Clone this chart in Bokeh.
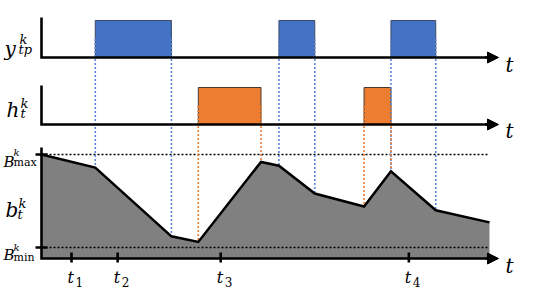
from bokeh.plotting import figure
from bokeh.models import Range1d, Arrow, NormalHead
from bokeh.embed import file_html
from bokeh.resources import INLINE
from bokeh.core.properties import value

# ---------------- data ----------------
# time axis in arbitrary units (0 .. 100), battery level normalised so that B_min = 0, B_max = 1
times = [0, 12, 29, 35, 49, 53, 61, 72, 78, 88, 100]
battery = [1.00, 0.86, 0.12, 0.06, 0.92, 0.88, 0.58, 0.44, 0.82, 0.40, 0.27]
tp_start = [12, 53, 78]          # y_tp^k = 1 intervals
tp_end = [29, 61, 88]
h_start = [35, 72]               # h_t^k = 1 intervals
h_end = [49, 78]
tick_times = [6.7, 17, 40, 82]
tick_subs = ["1", "2", "3", "4"]
b_min, b_max = 0.0, 1.0

# ---------------- layout ----------------
W, H, OFF_X, OFF_Y = 524, 288, 0, 3
X0, X_PER_T = 41.0, 4.48
T_TIP = (498 - X0) / X_PER_T
TOP_BASE, MID_BASE, UNIT = 60.0, 127.0, 37.0
BMIN_Y, BMAX_Y = 250.0, 157.0
B_UNIT = BMIN_Y - BMAX_Y
BLUE, ORANGE, GRAY = "#4472C4", "#ED7D31", "#808080"
FONT = "DejaVu Serif"


def panel_range(base, unit):
    return Range1d((base - (OFF_Y + H)) / unit, (base - OFF_Y) / unit)


def b_at(sy):
    return (BMIN_Y - sy) / B_UNIT


def t_at(sx):
    return (sx - X0) / X_PER_T


p = figure(width=W, height=H, output_backend="svg", toolbar_location=None,
           x_range=Range1d(t_at(OFF_X), t_at(OFF_X + W)),
           y_range=panel_range(BMIN_Y, B_UNIT),
           x_axis_type=None, y_axis_type=None, min_border=0,
           outline_line_color=None, background_fill_color="white",
           border_fill_color="white")
p.extra_y_ranges = {"tp": panel_range(TOP_BASE, UNIT),
                    "h": panel_range(MID_BASE, UNIT),
                    "py": Range1d(OFF_Y + H, OFF_Y)}
p.extra_x_ranges = {"px": Range1d(OFF_X, OFF_X + W)}

b_floor = b_at(261)

# gray battery area
p.varea(x=times, y1=[b_floor] * len(times), y2=battery, fill_color=GRAY)

# B_max / B_min dotted lines
for lvl in (b_max, b_min):
    p.line([0, times[-1]], [lvl, lvl], line_color="black", line_width=1.6, line_dash="2 2")

# bars
p.quad(left=tp_start, right=tp_end, bottom=0, top=1, y_range_name="tp",
       fill_color=BLUE, line_color="#3c4a66", line_width=1)
p.quad(left=h_start, right=h_end, bottom=0, top=1, y_range_name="h",
       fill_color=ORANGE, line_color="#4a3a30", line_width=1)

# dotted connectors down to the battery curve
blue_edges = tp_start + tp_end
p.segment(x0=blue_edges, x1=blue_edges,
          y0=[b_at(TOP_BASE - 0.5 * UNIT)] * len(blue_edges),
          y1=[battery[times.index(e)] for e in blue_edges],
          line_color="#5a87d6", line_width=1.6, line_dash="2 2")
orange_edges = h_start + h_end
p.segment(x0=orange_edges, x1=orange_edges,
          y0=[b_at(MID_BASE - 0.5 * UNIT)] * len(orange_edges),
          y1=[battery[times.index(e)] for e in orange_edges],
          line_color=ORANGE, line_width=1.6, line_dash="2 2")

# battery curve
p.line(times, battery, line_color="black", line_width=2.5, line_join="miter")

# axes
AX = dict(line_color="black", line_width=2.6, line_join="miter")
p.line([0, 0, T_TIP - 2], [(TOP_BASE - 20) / UNIT, 0, 0], y_range_name="tp", **AX)
p.line([0, 0, T_TIP - 2], [(MID_BASE - 88) / UNIT, 0, 0], y_range_name="h", **AX)
p.line([0, 0, T_TIP - 2], [b_at(150), b_floor, b_floor], **AX)
for rng, yv in (("tp", 0), ("h", 0), ("default", b_floor)):
    p.add_layout(Arrow(end=NormalHead(size=11, fill_color="black", line_color="black", line_width=1),
                       x_start=T_TIP - 3, y_start=yv, x_end=T_TIP, y_end=yv,
                       line_color="black", line_width=2.6, y_range_name=rng))

# ticks
p.segment(x0=tick_times, x1=tick_times, y0=[b_at(255)] * 4, y1=[b_at(265)] * 4,
          line_color="black", line_width=2.6)
p.segment(x0=[t_at(35)] * 2, x1=[t_at(47)] * 2, y0=[b_max, b_min], y1=[b_max, b_min],
          line_color="black", line_width=2.6)


def txt(x, y, s, size, italic=True, xr="px", xoff=0):
    p.text(x=[x], y=[y], text=[s], x_range_name=xr, y_range_name="py",
           x_offset=xoff,
           text_font=value(FONT), text_font_size=f"{size}px",
           text_font_style="italic" if italic else "normal",
           text_align="left", text_baseline="alphabetic", text_color="black")


# left labels
txt(4, 51, "y", 20)
txt(19, 42, "k", 13)
txt(18, 52, "tp", 13)

txt(6, 112, "h", 20)
txt(20, 106, "k", 13)
txt(20, 116, "t", 13)

txt(3, 164, "B", 15)
txt(13, 155, "k", 10)
txt(13, 165, "max", 11, italic=False)

txt(5, 212, "b", 20)
txt(18, 206, "k", 13)
txt(17, 217, "t", 13)

txt(3, 257, "B", 15)
txt(13, 250, "k", 10)
txt(13, 260, "min", 11, italic=False)

# axis "t" labels
for base in (67, 133, 268):
    txt(505, base, "t", 20)

# tick labels
for tt, sub in zip(tick_times, tick_subs):
    txt(tt, 280, "t", 16, xr="default", xoff=-4)
    txt(tt, 284, sub, 12, italic=False, xr="default", xoff=4)

open("out.html", "w").write(file_html(p, INLINE))
